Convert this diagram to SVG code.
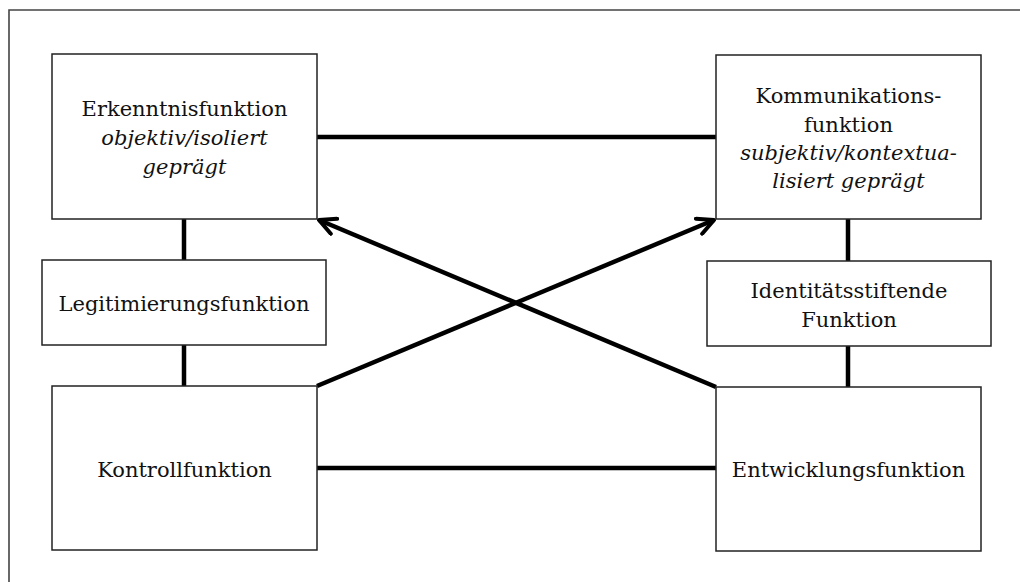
<svg xmlns="http://www.w3.org/2000/svg" width="1020" height="582" viewBox="0 0 1020 582">
<style>
.box{fill:#fff;stroke:#222;stroke-width:1.5}
.t{font-family:"DejaVu Serif","Liberation Serif",serif;font-size:21px;fill:#111;text-anchor:middle}
.i{font-style:italic}
.c{stroke:#000;stroke-width:4.5;fill:none}
.frame{stroke:#444;stroke-width:1.6;fill:none}
</style>
<defs>
<marker id="ah" viewBox="0 0 10 10" refX="9" refY="5" markerWidth="4.5" markerHeight="4.5" orient="auto" markerUnits="strokeWidth">
<path d="M1,1 L9,5 L1,9" fill="none" stroke="#000" stroke-width="2" stroke-linecap="round" stroke-linejoin="round"/>
</marker>
</defs>
<rect width="1020" height="582" fill="#fff"/>
<path class="frame" d="M9,582 V10 H1020"/>
<g id="connectors">
<line class="c" x1="184" y1="219" x2="184" y2="260"/>
<line class="c" x1="184" y1="345" x2="184" y2="386"/>
<line class="c" x1="848" y1="219" x2="848" y2="261"/>
<line class="c" x1="848" y1="346" x2="848" y2="387"/>
<line class="c" x1="317" y1="137" x2="716" y2="137"/>
<line class="c" x1="317" y1="468" x2="716" y2="468"/>
<line class="c" x1="317" y1="386" x2="714" y2="220" marker-end="url(#ah)"/>
<line class="c" x1="716" y1="387" x2="319" y2="220" marker-end="url(#ah)"/>
</g>
<g id="erkenntnis">
<rect class="box" x="52" y="54" width="265" height="165"/>
<text class="t" x="184.5" y="116">Erkenntnisfunktion</text>
<text class="t i" x="184.5" y="145">objektiv/isoliert</text>
<text class="t i" x="184.5" y="174">geprägt</text>
</g>
<g id="kommunikation">
<rect class="box" x="716" y="55" width="265" height="164"/>
<text class="t" x="848.5" y="103">Kommunikations-</text>
<text class="t" x="848.5" y="132">funktion</text>
<text class="t i" x="848.5" y="160">subjektiv/kontextua-</text>
<text class="t i" x="848.5" y="188">lisiert geprägt</text>
</g>
<g id="legitimierung">
<rect class="box" x="42" y="260" width="284" height="85"/>
<text class="t" x="184" y="311">Legitimierungsfunktion</text>
</g>
<g id="identitaet">
<rect class="box" x="707" y="261" width="284" height="85"/>
<text class="t" x="849" y="298">Identitätsstiftende</text>
<text class="t" x="849" y="327">Funktion</text>
</g>
<g id="kontroll">
<rect class="box" x="52" y="386" width="265" height="164"/>
<text class="t" x="184.5" y="477">Kontrollfunktion</text>
</g>
<g id="entwicklung">
<rect class="box" x="716" y="387" width="265" height="164"/>
<text class="t" x="848.5" y="477">Entwicklungsfunktion</text>
</g>
</svg>
